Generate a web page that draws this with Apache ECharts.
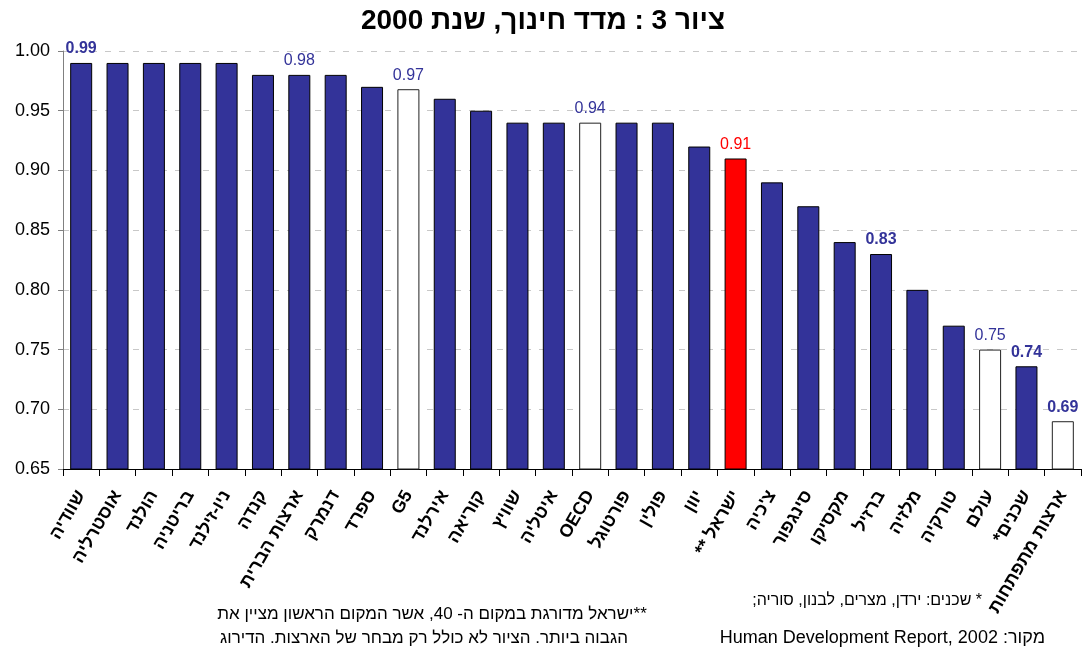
<!DOCTYPE html>
<html>
<head>
<meta charset="utf-8">
<script src="https://cdn.jsdelivr.net/npm/echarts@6/dist/echarts.min.js"></script>
<style>
html,body{margin:0;padding:0;background:#fff;}
#chart{position:absolute;left:0;top:0;width:1085px;height:652px;}
</style>
</head>
<body>
<div id="chart" dir="rtl"></div>
<script>
// ---- data ----
var categories = ['שוודיה','אוסטרליה','הולנד','בריטניה','ניו-זילנד','קנדה','ארצות הברית','דנמרק','ספרד','G5','אירלנד','קוריאה','שוויץ','איטליה','OECD','פורטוגל','פולין','יוון','ישראל **','צ\'כיה','סינגפור','מקסיקו','ברזיל','מלזיה','טורקיה','עולם','שכנים*','ארצות מתפתחות'];
var values = [0.99,0.99,0.99,0.99,0.99,0.98,0.98,0.98,0.97,0.968,0.96,0.95,0.94,0.94,0.94,0.94,0.94,0.92,0.91,0.89,0.87,0.84,0.83,0.80,0.77,0.75,0.736,0.69];
// group of each bar: c = country, a = aggregate, i = Israel
var groups = ['c','c','c','c','c','c','c','c','c','a','c','c','c','c','a','c','c','c','i','c','c','c','c','c','c','a','c','a'];
var labelledIdx = [0,6,9,14,18,22,25,26,27];
var boldLabelIdx = [0,22,26,27];
var yTicks = {min:0.65, max:1.00, step:0.05};
var titleText = 'ציור 3 : מדד חינוך, שנת 2000';
var noteIsrael1 = '**ישראל מדורגת במקום ה- 40, אשר המקום הראשון מציין את';
var noteIsrael2 = 'הגבוה ביותר. הציור לא כולל רק מבחר של הארצות. הדירוג';
var noteNeighbours = '* שכנים: ירדן, מצרים, לבנון, סוריה;';
var noteSource = 'מקור: 2002 ,Human Development Report';

// ---- styles ----
var FONT = 'Arial, "Liberation Sans", "DejaVu Sans", sans-serif';
var fill = {c:'#333399', a:'#ffffff', i:'#ff0000'};
var border = {c:'#000000', a:'#222222', i:'#000000'};
var labelColor = {c:'#333399', a:'#333399', i:'#ff0000'};

var seriesData = values.map(function(v, i){
  var g = groups[i];
  var item = {value: v, itemStyle: {color: fill[g], borderColor: border[g], borderWidth: 1}};
  if (labelledIdx.indexOf(i) >= 0) {
    item.label = {
      show: true, position: 'top', distance: 6,
      color: labelColor[g], fontSize: 16, fontFamily: FONT,
      fontWeight: boldLabelIdx.indexOf(i) >= 0 ? 'bold' : 'normal',
      formatter: function(p){ return p.value.toFixed(2); }
    };
  }
  return item;
});

var chart = echarts.init(document.getElementById('chart'), null, {renderer:'canvas'});
chart.setOption({
  backgroundColor: '#ffffff',
  animation: false,
  title: {
    text: titleText, left: 538, top: 2, textAlign: 'center',
    textStyle: {fontSize: 28, fontWeight: 'bold', color: '#000', fontFamily: FONT}
  },
  grid: {left: 63, right: 4, top: 51, bottom: 183, containLabel: false},
  xAxis: {
    type: 'category', data: categories,
    axisLine: {show: true, lineStyle: {color: '#000', width: 1}},
    axisTick: {show: true, length: 7, lineStyle: {color: '#000'}},
    axisLabel: {interval: 0, rotate: 60, margin: 23, fontSize: 18, fontWeight: 'bold', color: '#000', fontFamily: FONT},
    splitLine: {show: false}
  },
  yAxis: {
    type: 'value', min: yTicks.min, max: yTicks.max, interval: yTicks.step,
    axisLine: {show: true, lineStyle: {color: '#808080', width: 1}},
    axisTick: {show: true, length: 5, lineStyle: {color: '#808080'}},
    axisLabel: {fontSize: 18, color: '#000', margin: 13, fontFamily: FONT,
      formatter: function(v){ return v.toFixed(2); }},
    splitLine: {show: true, lineStyle: {color: '#c8c8c8', type: [6, 8], width: 1}}
  },
  series: [{
    type: 'bar', data: seriesData, barWidth: 22,
    label: {show: false}
  }],
  graphic: [
    {type: 'text', style: {text: noteIsrael1, x: 432, y: 614, textAlign: 'center', textVerticalAlign: 'middle', font: '17px ' + FONT, fill: '#000'}},
    {type: 'text', style: {text: noteIsrael2, x: 424, y: 638, textAlign: 'center', textVerticalAlign: 'middle', font: '17px ' + FONT, fill: '#000'}},
    {type: 'text', style: {text: noteNeighbours, x: 982, y: 601, textAlign: 'right', textVerticalAlign: 'middle', font: '16px ' + FONT, fill: '#000'}},
    {type: 'text', style: {text: noteSource, x: 1045, y: 638, textAlign: 'right', textVerticalAlign: 'middle', font: '18px ' + FONT, fill: '#000'}}
  ]
});
</script>
</body>
</html>
